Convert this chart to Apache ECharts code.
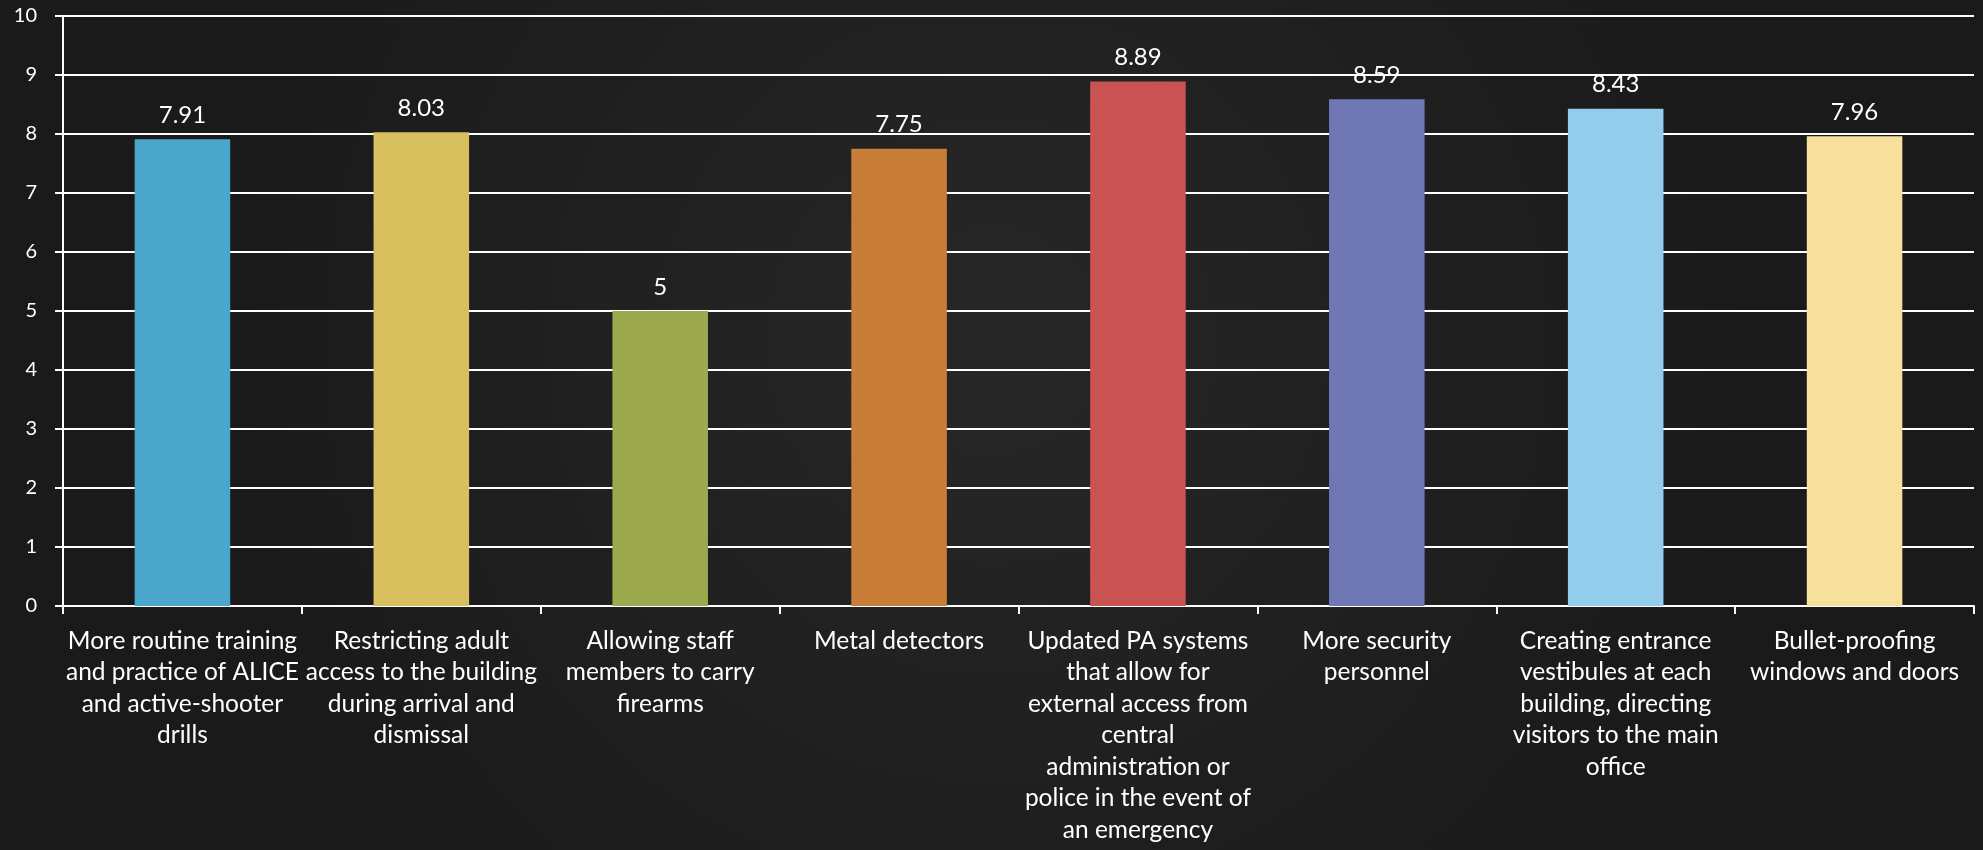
<!DOCTYPE html>
<html>
<head>
<meta charset="utf-8">
<script src="https://cdn.jsdelivr.net/npm/echarts@6/dist/echarts.min.js"></script>
<style>
html,body{margin:0;padding:0;background:#1f1f1f;}
#c{width:1983px;height:850px;}
</style>
</head>
<body>
<div id="c"></div>
<script>
const categories = [
  "More routine training\nand practice of ALICE\nand active-shooter\ndrills",
  "Restricting adult\naccess to the building\nduring arrival and\ndismissal",
  "Allowing staff\nmembers to carry\nfirearms",
  "Metal detectors",
  "Updated PA systems\nthat allow for\nexternal access from\ncentral\nadministration or\npolice in the event of\nan emergency",
  "More security\npersonnel",
  "Creating entrance\nvestibules at each\nbuilding, directing\nvisitors to the main\noffice",
  "Bullet-proofing\nwindows and doors"
];
const values = [7.91, 8.03, 5, 7.75, 8.89, 8.59, 8.43, 7.96];
const barColors = ["#4BA6CC", "#D8C05E", "#9CA94F", "#C87D38", "#C95352", "#6F78B5", "#94CDEB", "#F6E09B"];
const yTicks = { min: 0, max: 10, interval: 1 };

const chart = echarts.init(document.getElementById('c'));
chart.setOption({
  backgroundColor: {
    type: 'radial', x: 0.5, y: 0.4, r: 0.9,
    colorStops: [{offset: 0, color: '#272727'}, {offset: 1, color: '#1a1a1a'}]
  },
  animation: false,
  grid: { left: 63, right: 9, top: 16, bottom: 244 },
  xAxis: {
    type: 'category',
    data: categories,
    axisLine: { lineStyle: { color: '#ffffff', width: 2 } },
    axisTick: { show: true, length: 8, lineStyle: { color: '#ffffff', width: 2 } },
    axisLabel: {
      color: '#ffffff', fontFamily: 'Lato', fontSize: 24.5, lineHeight: 31.5,
      margin: 19, interval: 0, align: 'center'
    }
  },
  yAxis: {
    type: 'value',
    min: yTicks.min, max: yTicks.max, interval: yTicks.interval,
    axisLine: { show: true, lineStyle: { color: '#ffffff', width: 2 } },
    axisTick: { show: true, length: 8, lineStyle: { color: '#ffffff', width: 2 } },
    splitLine: { lineStyle: { color: '#ffffff', width: 2 } },
    axisLabel: { color: '#ffffff', fontFamily: 'Lato', fontSize: 20, margin: 26 }
  },
  series: [{
    type: 'bar',
    data: values.map((v, i) => ({ value: v, itemStyle: { color: barColors[i] } })),
    barWidth: '40%',
    label: {
      show: true, position: 'top', distance: 12,
      color: '#ffffff', fontFamily: 'Lato', fontSize: 24
    }
  }]
});
</script>
</body>
</html>
